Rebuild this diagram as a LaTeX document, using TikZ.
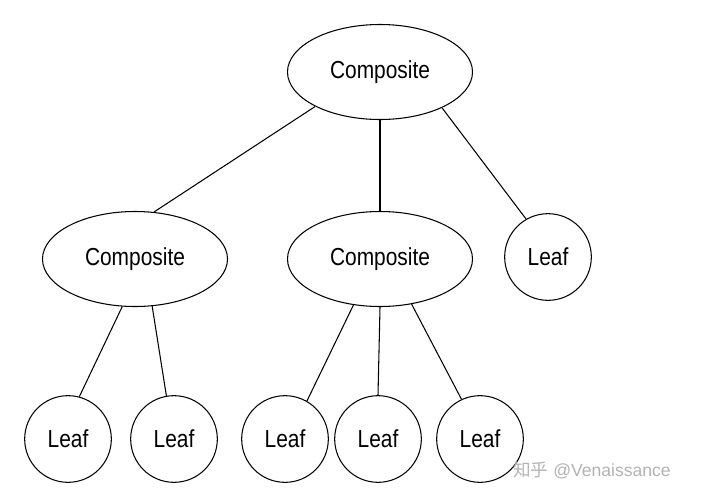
\documentclass[tikz,border=0pt]{standalone}
\usepackage{fontspec}
\setmainfont{Liberation Sans}
\newfontfamily\cjk{Noto Sans CJK SC}
\usetikzlibrary{shapes.geometric}
\tikzset{
  comp/.style={draw,ellipse,minimum width=5.55cm,minimum height=2.85cm,font=\fontsize{21}{21}\selectfont,inner sep=0pt},
  leaf/.style={draw,circle,minimum size=2.6cm,font=\fontsize{21}{21}\selectfont,inner sep=0pt},
}
\begin{document}
\begin{tikzpicture}[x=0.03cm,y=-0.03cm,line width=0.9pt]
\useasboundingbox (0,0) rectangle (707,500);

\node[comp] (top) at (380,72) {\scalebox{0.85}[1]{Composite}};
\node[comp] (cl) at (135,259) {\scalebox{0.85}[1]{Composite}};
\node[comp] (cm) at (380,259) {\scalebox{0.85}[1]{Composite}};
\node[leaf] (lr) at (548,257) {\scalebox{0.85}[1]{Leaf}};

\node[leaf] (l1) at (68,439) {\scalebox{0.85}[1]{Leaf}};
\node[leaf] (l2) at (174,439) {\scalebox{0.85}[1]{Leaf}};
\node[leaf] (l3) at (285,439) {\scalebox{0.85}[1]{Leaf}};
\node[leaf] (l4) at (378,439) {\scalebox{0.85}[1]{Leaf}};
\node[leaf] (l5) at (480,439) {\scalebox{0.85}[1]{Leaf}};

\draw (top.-152) -- (cl.68);
\draw (top.south) -- (cm.north);
\draw (top.-30) -- (lr.120);

\draw (cl.-105) -- (l1.75);
\draw (cl.-70) -- (l2.100);
\draw (cm.-120) -- (l3.60);
\draw (cm.south) -- (l4.north);
\draw (cm.-55) -- (l5.115);

%watermark
\node[text=gray!60,font=\fontsize{15}{15}\selectfont] (wm) at (592,470) {{\cjk 知乎} @Venaissance};
\end{tikzpicture}
\end{document}
